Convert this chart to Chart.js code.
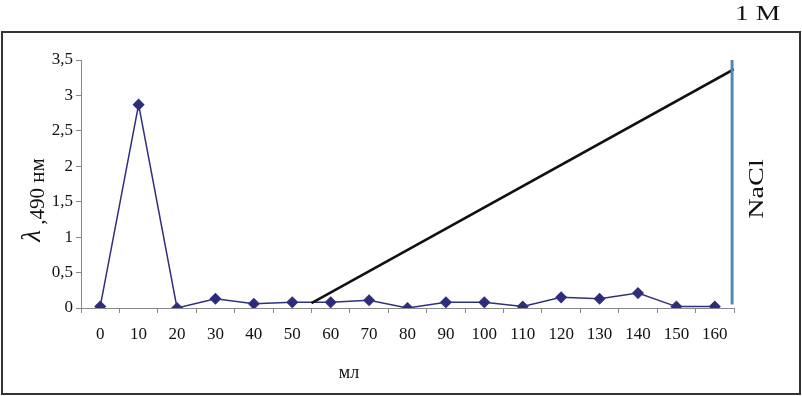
<!DOCTYPE html>
<html>
<head>
<meta charset="utf-8">
<script src="https://cdn.jsdelivr.net/npm/chart.js@4"></script>
<style>
  html, body { margin: 0; padding: 0; background: #fff; }
  #wrap { width: 802px; height: 396px; position: relative; }
</style>
</head>
<body>
<div id="wrap"><canvas id="c"></canvas></div>
<script>
// ---- data ----
const categories = ['0','10','20','30','40','50','60','70','80','90','100','110','120','130','140','150','160'];
const absorbance = [0.02, 2.87, 0.0, 0.13, 0.06, 0.08, 0.08, 0.11, 0.0, 0.08, 0.08, 0.02, 0.15, 0.13, 0.21, 0.02, 0.02];
// NaCl gradient line (x in category-index units)
const gradientX = [5.5, 16.5];
const gradientY = [0.07, 3.37];
// NaCl 1 M marker line
const naclX = [16.45, 16.45];
const naclY = [0.05, 3.5];
const yTicks = [0, 0.5, 1, 1.5, 2, 2.5, 3, 3.5];

const SERIF = '"Liberation Serif", "DejaVu Serif", serif';

const decor = {
  id: 'decor',
  afterDraw(chart) {
    const ctx = chart.ctx;
    ctx.save();
    // outer border
    ctx.strokeStyle = '#333';
    ctx.lineWidth = 2;
    ctx.strokeRect(2, 32, 798, 362);

    ctx.fillStyle = '#111';
    // "1 M"
    ctx.save();
    ctx.font = '22px ' + SERIF;
    ctx.textBaseline = 'alphabetic';
    ctx.translate(735, 20);
    ctx.scale(1.25, 1);
    ctx.fillText('1 M', 0, 0);
    ctx.restore();

    // "NaCl" rotated
    ctx.save();
    ctx.font = '22px ' + SERIF;
    ctx.textBaseline = 'alphabetic';
    ctx.textAlign = 'center';
    ctx.translate(763, 189);
    ctx.rotate(-Math.PI / 2);
    ctx.scale(1.28, 1);
    ctx.fillText('NaCl', 0, 0);
    ctx.restore();

    // y title: λ ,490 нм
    ctx.save();
    ctx.translate(44, 200);
    ctx.rotate(-Math.PI / 2);
    ctx.textBaseline = 'alphabetic';
    const f1 = 'italic 27px ' + SERIF;
    const f2 = '21px ' + SERIF;
    ctx.font = f1;
    const w1 = ctx.measureText('λ').width;
    ctx.font = f2;
    const t2 = ' ,490 нм';
    const w2 = ctx.measureText(t2).width;
    let x0 = -(w1 + w2) / 2;
    ctx.font = f1;
    ctx.fillText('λ', x0, -4);
    ctx.font = f2;
    ctx.fillText(t2, x0 + w1, 0);
    ctx.restore();

    // x title
    ctx.font = '18px ' + SERIF;
    ctx.textAlign = 'center';
    ctx.textBaseline = 'middle';
    ctx.fillText('мл', 349, 373);
    ctx.restore();
  }
};

new Chart(document.getElementById('c'), {
  type: 'line',
  data: {
    labels: categories,
    datasets: [
      {
        label: 'NaCl 1M',
        data: naclX.map((x, i) => ({ x, y: naclY[i] })),
        xAxisID: 'x2',
        borderColor: '#5a86b6',
        borderWidth: 3,
        pointRadius: 0,
        tension: 0
      },
      {
        label: 'gradient',
        data: gradientX.map((x, i) => ({ x, y: gradientY[i] })),
        xAxisID: 'x2',
        borderColor: '#111',
        borderWidth: 2.5,
        pointRadius: 0,
        tension: 0
      },
      {
        label: 'A490',
        data: absorbance,
        xAxisID: 'x',
        borderColor: '#30307e',
        backgroundColor: '#2c2c78',
        borderWidth: 1.5,
        pointStyle: 'rectRot',
        pointRadius: 5,
        pointHoverRadius: 5,
        tension: 0
      }
    ]
  },
  options: {
    responsive: true,
    maintainAspectRatio: false,
    animation: false,
    layout: { padding: { top: 60, right: 68, left: 0, bottom: 0 } },
    plugins: { legend: { display: false }, tooltip: { enabled: false } },
    scales: {
      x: {
        type: 'category',
        offset: true,
        grid: { offset: true, drawOnChartArea: false, drawTicks: true, tickLength: 5, color: '#888', lineWidth: 1 },
        border: { color: '#888', width: 1 },
        ticks: { font: { family: SERIF, size: 17 }, color: '#111', padding: 11, maxRotation: 0, autoSkip: false },
        afterFit(scale) { scale.height = 88; }
      },
      x2: {
        type: 'linear',
        display: false,
        min: -0.5,
        max: 16.5
      },
      y: {
        min: 0,
        max: 3.5,
        afterBuildTicks(scale) { scale.ticks = yTicks.map(v => ({ value: v })); },
        grid: { drawOnChartArea: false, drawTicks: true, tickLength: 5, color: '#888' },
        border: { color: '#888', width: 1 },
        ticks: {
          font: { family: SERIF, size: 17 },
          color: '#111',
          padding: 3,
          callback: v => String(v).replace('.', ',')
        },
        afterFit(scale) { scale.width = 81; }
      }
    }
  },
  plugins: [decor]
});
</script>
</body>
</html>
